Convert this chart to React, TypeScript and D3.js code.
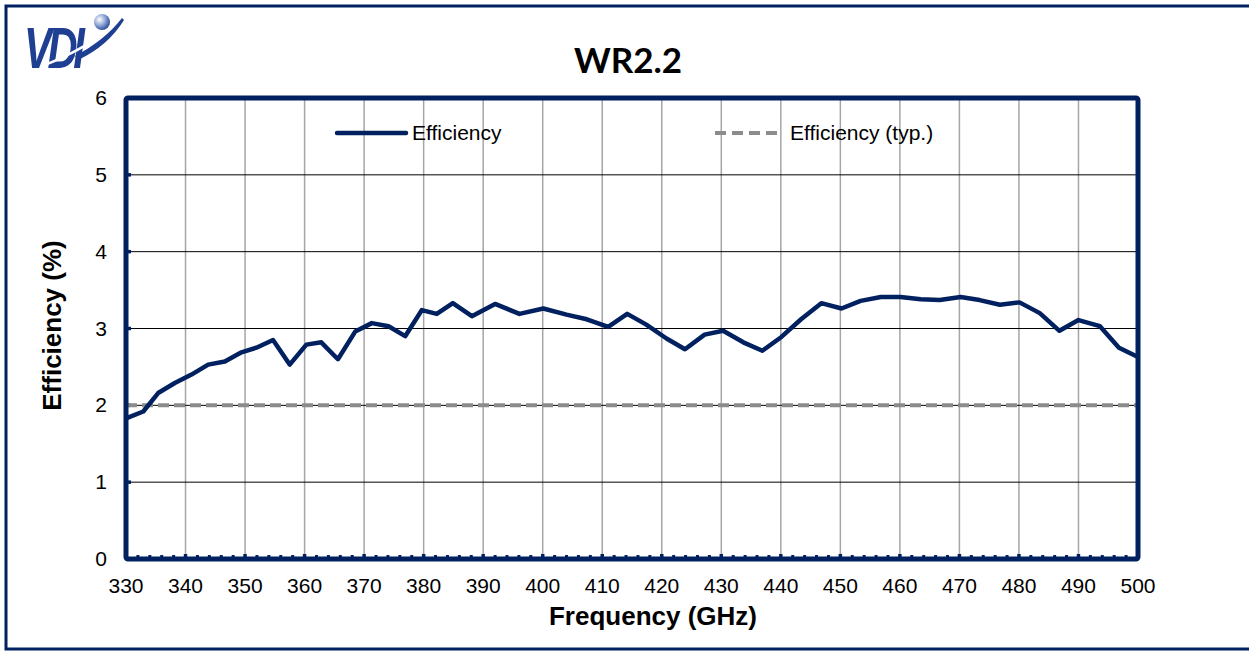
import React from 'react';
import * as d3 from 'd3';

// frequency (GHz) and efficiency (%)
const freqs = [330, 332.9, 335.4, 338.2, 341.0, 343.8, 346.6, 349.4, 351.9, 354.7, 357.5, 360.3, 362.8, 365.6, 368.5, 371.3, 374.1, 376.9, 379.7, 382.2, 384.9, 388.1, 392.0, 396.1, 400.1, 404.0, 407.4, 411.0, 414.2, 417.4, 420.8, 423.9, 427.2, 430.3, 433.7, 436.9, 440.1, 443.4, 446.8, 450.2, 453.4, 456.8, 460.1, 463.5, 466.7, 470.2, 473.4, 476.8, 480.1, 483.5, 486.8, 490.0, 493.6, 496.8, 500];
const efficiency = [1.83, 1.92, 2.16, 2.29, 2.40, 2.53, 2.57, 2.69, 2.75, 2.85, 2.53, 2.79, 2.82, 2.60, 2.96, 3.07, 3.03, 2.90, 3.24, 3.19, 3.33, 3.16, 3.32, 3.19, 3.26, 3.18, 3.12, 3.02, 3.19, 3.05, 2.87, 2.73, 2.92, 2.97, 2.82, 2.71, 2.89, 3.12, 3.33, 3.26, 3.36, 3.41, 3.41, 3.38, 3.37, 3.41, 3.37, 3.31, 3.34, 3.20, 2.97, 3.11, 3.03, 2.75, 2.63];
const typFreqs = [330, 500];
const typEfficiency = [2, 2];
const xTicks = [330, 340, 350, 360, 370, 380, 390, 400, 410, 420, 430, 440, 450, 460, 470, 480, 490, 500];
const yTicks = [0, 1, 2, 3, 4, 5, 6];

const NAVY = '#002060';
const W = 1249;
const H = 651;
const plot = { left: 126, right: 1138, top: 98, bottom: 559 };

const App = () => {
  const x = d3.scaleLinear().domain([330, 500]).range([plot.left, plot.right]);
  const y = d3.scaleLinear().domain([0, 6]).range([plot.bottom, plot.top]);

  const line = d3.line<[number, number]>()
    .x(d => x(d[0]))
    .y(d => y(d[1]));

  const effPath = line(freqs.map((f, i) => [f, efficiency[i]]));
  const typPath = line(typFreqs.map((f, i) => [f, typEfficiency[i]]));
  const minorTicks = d3.range(332, 500, 2);

  return (
    <svg width={W} height={H} style={{ position: 'absolute', left: 0, top: 0, background: 'white' }}
      fontFamily="'Liberation Sans', Arial, sans-serif">
      <defs>
        <radialGradient id="ball" cx="35%" cy="35%" r="70%">
          <stop offset="0%" stopColor="#ffffff" />
          <stop offset="45%" stopColor="#9fb3dc" />
          <stop offset="100%" stopColor="#2a4a9a" />
        </radialGradient>
      </defs>

      {/* outer frame */}
      <rect x={6} y={6} width={W + 10} height={643} fill="none" stroke={NAVY} strokeWidth={3} />

      {/* logo */}
      <g>
        <text x={0} y={0} fontSize={58} fontWeight="bold" fontStyle="italic" fill="#1f3f93"
          transform="translate(24,68) scale(0.72,1)" letterSpacing={-6}>VDI</text>
        <path d="M 42 66 Q 85 50 122 20" fill="none" stroke="white" strokeWidth={2.5} />
        <path d="M 75 56 Q 105 40 122 18 L 124 20 Q 108 46 78 60 Z" fill="#1f3f93" />
        <circle cx={102} cy={22} r={8} fill="url(#ball)" />
      </g>

      {/* title */}
      <text x={628} y={73} textAnchor="middle" fontSize={35} fontWeight="bold"
        fontFamily="Lato, 'Open Sans', sans-serif">WR2.2</text>

      {/* grid */}
      {xTicks.slice(1, -1).map(t => (
        <line key={'vx' + t} x1={x(t)} x2={x(t)} y1={plot.top} y2={plot.bottom} stroke="#a6a6a6" strokeWidth={1.5} />
      ))}
      {yTicks.slice(1, -1).map(t => (
        <line key={'hy' + t} x1={plot.left} x2={plot.right} y1={y(t)} y2={y(t)} stroke="#000" strokeWidth={1} />
      ))}

      {/* minor ticks along bottom */}
      {minorTicks.map(t => (
        <line key={'mt' + t} x1={x(t)} x2={x(t)} y1={plot.bottom} y2={plot.bottom - (t % 10 === 0 ? 5 : 4)}
          stroke={NAVY} strokeWidth={t % 10 === 0 ? 3.5 : 3} />
      ))}
      {yTicks.slice(1, -1).map(t => (
        <line key={'yt' + t} x1={plot.left} x2={plot.left + 5} y1={y(t)} y2={y(t)} stroke={NAVY} strokeWidth={3.5} />
      ))}

      {/* series */}
      <path d={typPath ?? ''} fill="none" stroke="#8c8c8c" strokeWidth={4} strokeDasharray="11 5" />
      <path d={effPath ?? ''} fill="none" stroke={NAVY} strokeWidth={4.5} strokeLinejoin="round" />

      {/* plot frame */}
      <rect x={plot.left} y={plot.top} width={plot.right - plot.left} height={plot.bottom - plot.top}
        fill="none" stroke={NAVY} strokeWidth={5} rx={2} />

      {/* axis labels */}
      {xTicks.map(t => (
        <text key={'xl' + t} x={x(t)} y={593} textAnchor="middle" fontSize={21} fill="#000">{t}</text>
      ))}
      {yTicks.map(t => (
        <text key={'yl' + t} x={107} y={y(t) + 7} textAnchor="end" fontSize={21} fill="#000">{t}</text>
      ))}
      <text x={653} y={625} textAnchor="middle" fontSize={26} fontWeight="bold">Frequency (GHz)</text>
      <text transform={`translate(61,${(plot.top + plot.bottom) / 2 - 3}) rotate(-90)`} textAnchor="middle"
        fontSize={26} fontWeight="bold">Efficiency (%)</text>

      {/* legend */}
      <line x1={337} x2={406} y1={133} y2={133} stroke={NAVY} strokeWidth={4.5} strokeLinecap="round" />
      <text x={412} y={140} fontSize={21}>Efficiency</text>
      <line x1={715} x2={780} y1={133} y2={133} stroke="#8c8c8c" strokeWidth={4} strokeDasharray="11 6" />
      <text x={790} y={140} fontSize={21}>Efficiency (typ.)</text>
    </svg>
  );
};

export default App;
